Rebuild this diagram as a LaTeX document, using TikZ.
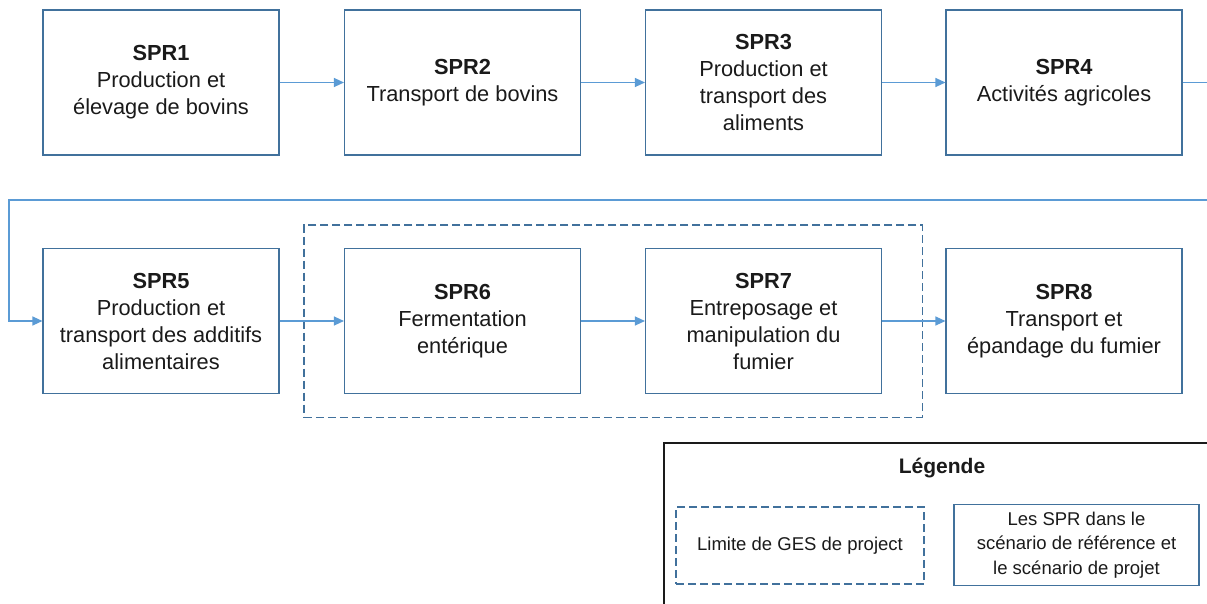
\documentclass[tikz,border=0pt]{standalone}
\usepackage{fontspec}
\setmainfont{Liberation Sans}
\usetikzlibrary{arrows.meta,fit}
\definecolor{boxblue}{HTML}{41719C}
\definecolor{flowblue}{HTML}{5B9BD5}
\definecolor{inkgray}{HTML}{1A1A1A}
\begin{document}
\begin{tikzpicture}[x=1pt,y=-1pt,
  spr/.style={draw=boxblue,line width=1.1pt,minimum width=236pt,minimum height=145pt,
    inner sep=0pt,align=center,text=inkgray,font=\fontsize{21.8}{27}\selectfont},
  flow/.style={draw=flowblue,line width=1.2pt,-{Triangle[length=10pt,width=9pt]}},
  bound/.style={draw=boxblue,line width=1.1pt,dash pattern=on 8pt off 4pt},
  legtext/.style={font=\fontsize{18.5}{24.5}\selectfont,text=inkgray,align=center}]
\useasboundingbox (0,0) rectangle (1207,604);

% first row of stages
\node[spr] (s1) at (161,82.5) {\textbf{SPR1}\\Production et\\élevage de bovins};
\node[spr] (s2) at (462.5,82.5) {\textbf{SPR2}\\Transport de bovins};
\node[spr] (s3) at (763.5,82.5) {\textbf{SPR3}\\Production et\\transport des\\aliments};
\node[spr] (s4) at (1064,82.5) {\textbf{SPR4}\\Activités agricoles};

% second row of stages
\node[spr] (s5) at (161,321) {\textbf{SPR5}\\Production et\\transport des additifs\\alimentaires};
\node[spr] (s6) at (462.5,321) {\textbf{SPR6}\\Fermentation\\entérique};
\node[spr] (s7) at (763.5,321) {\textbf{SPR7}\\Entreposage et\\manipulation du\\fumier};
\node[spr] (s8) at (1064,321) {\textbf{SPR8}\\Transport et\\épandage du fumier};

% project GHG boundary
\node[bound,fit=(s6)(s7),inner xsep=40pt,inner ysep=23pt] (ges) {};

% flows between stages
\draw[flow] (s1.east) -- (s2.west);
\draw[flow] (s2.east) -- (s3.west);
\draw[flow] (s3.east) -- (s4.west);
\coordinate (rOut) at (1215,82.5);
\coordinate (rTop) at (1215,200);
\coordinate (lTop) at (9,200);
\draw[flow] (s4.east) -- (rOut) -- (rTop) -- (lTop) |- (s5.west);
\draw[flow] (s5.east) -- (s6.west);
\draw[flow] (s6.east) -- (s7.west);
\draw[flow] (s7.east) -- (s8.west);

% legend
\coordinate (legA) at (664,443);
\coordinate (legB) at (1220,615);
\draw[draw=inkgray,line width=1.2pt] (legA) rectangle (legB);
\node[font=\fontsize{21}{25}\selectfont\bfseries,text=inkgray] (legtitle) at (942,468) {Légende};
\node[bound,legtext,minimum width=248pt,minimum height=77pt,inner sep=0pt] (lg1) at (800,545.5) {Limite de GES de project};
\node[draw=boxblue,line width=1.1pt,legtext,minimum width=245pt,minimum height=81pt,inner sep=0pt] (lg2) at (1076.5,545) {Les SPR dans le\\scénario de référence et\\le scénario de projet};
\end{tikzpicture}
\end{document}
